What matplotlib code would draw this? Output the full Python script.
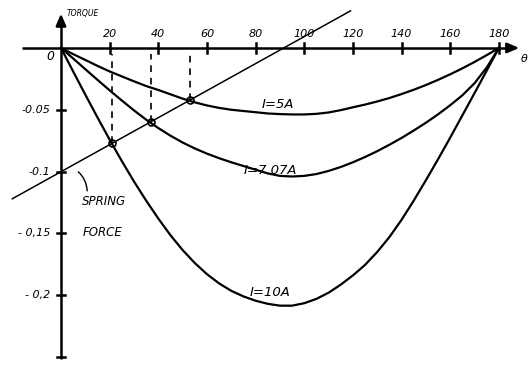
import matplotlib
matplotlib.use("Agg")
import matplotlib.pyplot as plt
from matplotlib.path import Path
from matplotlib.patches import PathPatch

# ---- data ----
theta = [0, 5, 10, 15, 20, 25, 30, 35, 40, 45, 50, 55, 60, 65, 70, 75, 80, 85, 90,
         95, 100, 105, 110, 115, 120, 125, 130, 135, 140, 145, 150, 155, 160, 165, 170, 175, 180]
torque_5A = [0, -0.005, -0.0097, -0.0145, -0.019, -0.023, -0.027, -0.0308, -0.034, -0.0375,
             -0.041, -0.044, -0.0465, -0.0485, -0.050, -0.051, -0.052, -0.053, -0.0535,
             -0.0538, -0.0538, -0.0533, -0.0522, -0.0503, -0.048, -0.0458, -0.0433, -0.0405,
             -0.0373, -0.0338, -0.030, -0.0258, -0.0213, -0.0165, -0.0113, -0.0058, 0]
torque_707A = [0, -0.0085, -0.0172, -0.0258, -0.0343, -0.0425, -0.0505, -0.0580, -0.0648,
               -0.0710, -0.0765, -0.0813, -0.0855, -0.0892, -0.0925, -0.0955, -0.0985,
               -0.1015, -0.1035, -0.104, -0.1035, -0.102, -0.0995, -0.0963, -0.0925, -0.0882,
               -0.0835, -0.0783, -0.0728, -0.0668, -0.0605, -0.0537, -0.0463, -0.0383,
               -0.0285, -0.0158, 0]
torque_10A = [0, -0.019, -0.0378, -0.0562, -0.0742, -0.0915, -0.108, -0.1235, -0.138, -0.1515,
              -0.1635, -0.174, -0.183, -0.1905, -0.1965, -0.201, -0.2045, -0.207, -0.2085,
              -0.2085, -0.2065, -0.203, -0.198, -0.1915, -0.184, -0.1755, -0.165, -0.153,
              -0.139, -0.1235, -0.107, -0.090, -0.0725, -0.0545, -0.0365, -0.0183, 0]
spring_theta = [-20, 119]
spring_torque = [-0.122, 0.030]
cross_theta = [21, 37, 53]
cross_torque = [-0.077, -0.060, -0.042]

xticks = [20, 40, 60, 80, 100, 120, 140, 160, 180]
xtick_labels = ["20", "40", "60", "80", "100", "120", "140", "160", "180"]
yticks = [-0.05, -0.1, -0.15, -0.2, -0.25]
ytick_labels = ["-0.05", "-0.1", "- 0,15", "- 0,2", ""]
curve_labels = ["I=5A", "I=7.07A", "I=10A"]

fig = plt.figure(figsize=(5.31, 3.65), dpi=100)
ax = fig.add_axes([0, 0, 1, 1])
ax.set_xlim(-25.07, 193.2)
ax.set_ylim(-0.2565, 0.0388)
ax.axis("off")

k = "black"
font = dict(family="DejaVu Sans", style="italic", color=k)

# axes with arrows
ax.plot([-16, 185], [0, 0], color=k, lw=1.8, solid_capstyle="butt")
ax.annotate("", xy=(189.5, 0), xytext=(183, 0),
            arrowprops=dict(arrowstyle="-|>,head_length=0.7,head_width=0.3", color=k, lw=1.8))
ax.plot([0, 0], [-0.252, 0.024], color=k, lw=1.8, solid_capstyle="butt")
ax.annotate("", xy=(0, 0.030), xytext=(0, 0.018),
            arrowprops=dict(arrowstyle="-|>,head_length=0.7,head_width=0.3", color=k, lw=1.8))

# ticks
for t, lab in zip(xticks, xtick_labels):
    ax.plot([t, t], [0.004, -0.004], color=k, lw=1.8)
    ax.text(t, 0.0075, lab, ha="center", va="bottom", fontsize=8, **font)
for v, lab in zip(yticks, ytick_labels):
    ax.plot([-1.8, 1.8], [v, v], color=k, lw=1.8)
    if lab:
        ax.text(-4.5, v, lab, ha="right", va="center", fontsize=8, **font)

ax.text(-4.5, -0.007, "0", ha="center", va="center", fontsize=9, **font)
ax.text(189.0, -0.009, "θ", ha="left", va="center", fontsize=8, **font)
ax.text(2.5, 0.028, "TORQUE", ha="left", va="center", fontsize=5.5, **font)

# curves
for y in (torque_5A, torque_707A, torque_10A):
    ax.plot(theta, y, color=k, lw=1.6, solid_joinstyle="round")

# spring force line
ax.plot(spring_theta, spring_torque, color=k, lw=1.1)

# dashed verticals and intersection circles
for t, v in zip(cross_theta, cross_torque):
    ax.plot([t, t], [v, -0.005], color=k, lw=1.2, ls=(0, (4, 3.5)))
ax.plot(cross_theta, cross_torque, ls="none", marker="o", ms=5, mfc="none",
        mec=k, mew=1.2)

# curve labels
ax.text(89, -0.046, curve_labels[0], ha="center", va="center", fontsize=9.5, **font)
ax.text(86, -0.099, curve_labels[1], ha="center", va="center", fontsize=9.5, **font)
ax.text(86, -0.198, curve_labels[2], ha="center", va="center", fontsize=9.5, **font)

# spring force annotation
ax.text(8.5, -0.124, "SPRING", ha="left", va="center", fontsize=8.5, **font)
ax.text(9.0, -0.149, "FORCE", ha="left", va="center", fontsize=8.5, **font)
leader = Path([(7.0, -0.1), (10.5, -0.106), (10.8, -0.116)],
              [Path.MOVETO, Path.CURVE3, Path.CURVE3])
ax.add_patch(PathPatch(leader, fc="none", ec=k, lw=1.0))

fig.savefig("out.png", dpi=100, facecolor="white")
